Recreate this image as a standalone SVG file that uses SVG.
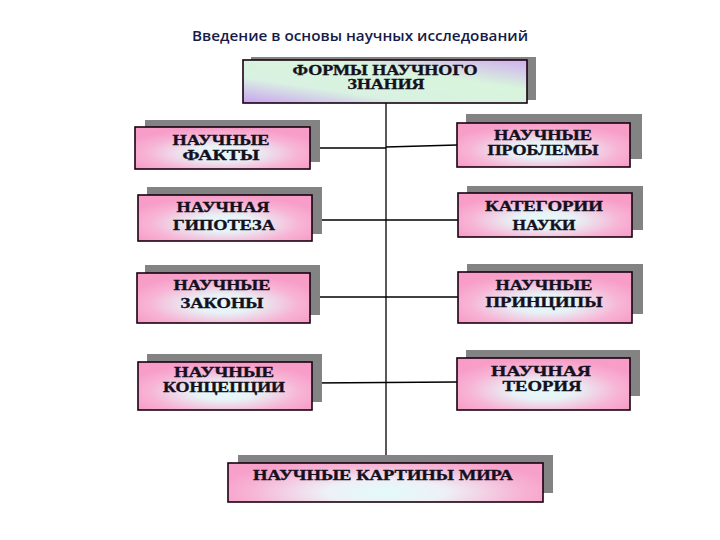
<svg xmlns="http://www.w3.org/2000/svg" width="720" height="540" viewBox="0 0 720 540">
<defs>
<radialGradient id="pink" cx="0.5" cy="0.62" r="0.6">
<stop offset="0" stop-color="#e4fbfb"/>
<stop offset="0.3" stop-color="#e8f2f6"/>
<stop offset="0.72" stop-color="#f7b4d5"/>
<stop offset="1" stop-color="#f79dc8"/>
</radialGradient>
<radialGradient id="pinkWide" cx="0.5" cy="0.75" r="0.55" gradientTransform="translate(0.5 0.75) scale(1 1.6) translate(-0.5 -0.75)">
<stop offset="0" stop-color="#e2fbfb"/>
<stop offset="0.35" stop-color="#eef0f6"/>
<stop offset="0.8" stop-color="#f7b2d4"/>
<stop offset="1" stop-color="#f7a0ca"/>
</radialGradient>
<linearGradient id="mint" x1="0" y1="1" x2="1" y2="0">
<stop offset="0" stop-color="#c9a2ef"/>
<stop offset="0.3" stop-color="#d9f1e2"/>
<stop offset="0.65" stop-color="#d8f5dc"/>
<stop offset="1" stop-color="#cfaef0"/>
</linearGradient>
</defs>
<style>
.sh{fill:#838383}
.bx{stroke:#1a0010;stroke-width:1.6}
.lb{font-family:"Liberation Serif","Times New Roman",serif;font-weight:bold;font-size:14px;fill:#14101e;stroke:#14101e;stroke-width:0.35;text-anchor:middle}
.ln{stroke:#000;stroke-width:1.3;fill:none}
.ttl{font-family:"Open Sans","Noto Sans",sans-serif;font-weight:600;font-size:15px;fill:#161b48;text-anchor:middle}
</style>
<rect width="720" height="540" fill="#fff"/>
<text class="ttl" x="360" y="41" textLength="336" lengthAdjust="spacingAndGlyphs">Введение в основы научных исследований</text>

<g id="connectors">
<line class="ln" x1="386" y1="103" x2="386" y2="463"/>
<line class="ln" x1="311" y1="148" x2="386" y2="148"/>
<line class="ln" x1="386" y1="147" x2="457" y2="145"/>
<line class="ln" x1="312" y1="220" x2="458" y2="220"/>
<line class="ln" x1="311" y1="297" x2="458" y2="297"/>
<line class="ln" x1="312" y1="383" x2="457" y2="382"/>
</g>

<g id="top">
<rect class="sh" x="251" y="57" width="285" height="43"/>
<rect class="bx" x="243" y="60" width="284" height="43" fill="url(#mint)"/>
<text class="lb" x="385" y="75" textLength="185" lengthAdjust="spacingAndGlyphs">ФОРМЫ НАУЧНОГО</text>
<text class="lb" x="386" y="89" textLength="77" lengthAdjust="spacingAndGlyphs">ЗНАНИЯ</text>
</g>

<g id="facts">
<rect class="sh" x="145" y="120" width="175" height="42"/>
<rect class="bx" x="135" y="127" width="175" height="42" fill="url(#pink)"/>
<text class="lb" x="221" y="145" textLength="97" lengthAdjust="spacingAndGlyphs">НАУЧНЫЕ</text>
<text class="lb" x="221" y="160" textLength="77" lengthAdjust="spacingAndGlyphs">ФАКТЫ</text>
</g>

<g id="problems">
<rect class="sh" x="466" y="114" width="176" height="45"/>
<rect class="bx" x="457" y="123" width="173" height="44" fill="url(#pink)"/>
<text class="lb" x="543" y="140" textLength="98" lengthAdjust="spacingAndGlyphs">НАУЧНЫЕ</text>
<text class="lb" x="543" y="155" textLength="111" lengthAdjust="spacingAndGlyphs">ПРОБЛЕМЫ</text>
</g>

<g id="hypothesis">
<rect class="sh" x="147" y="187" width="175" height="47"/>
<rect class="bx" x="138" y="195" width="174" height="46" fill="url(#pink)"/>
<text class="lb" x="223" y="212" textLength="93" lengthAdjust="spacingAndGlyphs">НАУЧНАЯ</text>
<text class="lb" x="224" y="230" textLength="102" lengthAdjust="spacingAndGlyphs">ГИПОТЕЗА</text>
</g>

<g id="categories">
<rect class="sh" x="467" y="186" width="176" height="44"/>
<rect class="bx" x="458" y="193" width="174" height="44" fill="url(#pink)"/>
<text class="lb" x="544" y="211" textLength="118" lengthAdjust="spacingAndGlyphs">КАТЕГОРИИ</text>
<text class="lb" x="544" y="230" textLength="63" lengthAdjust="spacingAndGlyphs">НАУКИ</text>
</g>

<g id="laws">
<rect class="sh" x="145" y="265" width="175" height="50"/>
<rect class="bx" x="137" y="273" width="173" height="50" fill="url(#pink)"/>
<text class="lb" x="222" y="290" textLength="97" lengthAdjust="spacingAndGlyphs">НАУЧНЫЕ</text>
<text class="lb" x="222" y="308" textLength="83" lengthAdjust="spacingAndGlyphs">ЗАКОНЫ</text>
</g>

<g id="principles">
<rect class="sh" x="467" y="264" width="176" height="50"/>
<rect class="bx" x="458" y="272" width="174" height="51" fill="url(#pink)"/>
<text class="lb" x="544" y="290" textLength="97" lengthAdjust="spacingAndGlyphs">НАУЧНЫЕ</text>
<text class="lb" x="544" y="307" textLength="117" lengthAdjust="spacingAndGlyphs">ПРИНЦИПЫ</text>
</g>

<g id="concepts">
<rect class="sh" x="147" y="354" width="175" height="48"/>
<rect class="bx" x="138" y="362" width="174" height="48" fill="url(#pink)"/>
<text class="lb" x="224" y="377" textLength="100" lengthAdjust="spacingAndGlyphs">НАУЧНЫЕ</text>
<text class="lb" x="224" y="392" textLength="122" lengthAdjust="spacingAndGlyphs">КОНЦЕПЦИИ</text>
</g>

<g id="theory">
<rect class="sh" x="466" y="350" width="174" height="46"/>
<rect class="bx" x="457" y="358" width="173" height="52" fill="url(#pink)"/>
<text class="lb" x="541" y="376" textLength="100" lengthAdjust="spacingAndGlyphs">НАУЧНАЯ</text>
<text class="lb" x="542" y="391" textLength="79" lengthAdjust="spacingAndGlyphs">ТЕОРИЯ</text>
</g>

<g id="worldview">
<rect class="sh" x="238" y="455" width="315" height="38"/>
<rect class="bx" x="228" y="463" width="315" height="39" fill="url(#pinkWide)"/>
<text class="lb" x="383" y="480" textLength="260" lengthAdjust="spacingAndGlyphs">НАУЧНЫЕ КАРТИНЫ МИРА</text>
</g>
</svg>
